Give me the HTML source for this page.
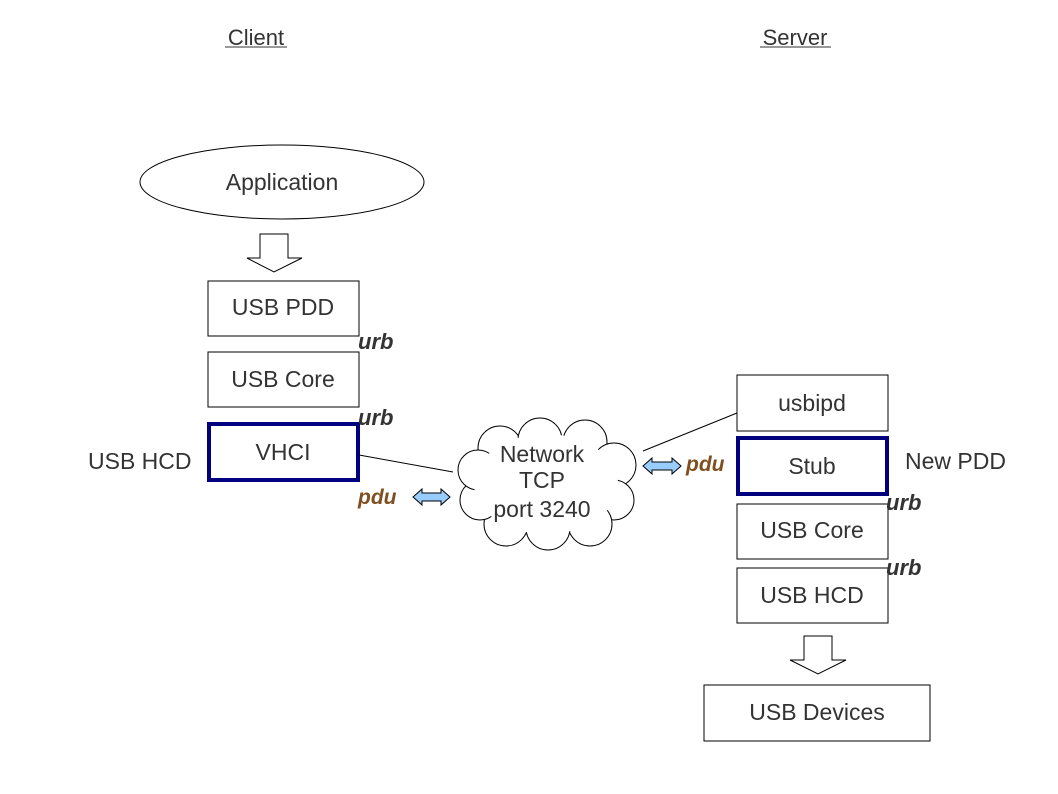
<!DOCTYPE html>
<html><head><meta charset="utf-8"><style>
html,body{margin:0;padding:0;background:#fff;}
svg{display:block;}
text{font-family:"Liberation Sans",sans-serif;fill:#333;}
</style></head><body>
<svg width="1058" height="794" viewBox="0 0 1058 794" xmlns="http://www.w3.org/2000/svg">
<rect width="1058" height="794" fill="#fff"/>
<text x="256" y="45" font-size="22" text-anchor="middle">Client</text>
<line x1="225" y1="47" x2="287" y2="47" stroke="#333" stroke-width="1"/>
<text x="795" y="45" font-size="22" text-anchor="middle">Server</text>
<line x1="760" y1="47" x2="831" y2="47" stroke="#333" stroke-width="1"/>

<ellipse cx="282" cy="182" rx="142" ry="37" fill="#fff" stroke="#000" stroke-width="1"/>
<text x="282" y="190" font-size="23" text-anchor="middle">Application</text>

<path d="M260,234 L288,234 L288,258 L302,258 L274,272 L247,258 L260,258 Z" fill="#fff" stroke="#000" stroke-width="1"/>

<rect x="208" y="281" width="151" height="55" fill="#fff" stroke="#000"/>
<text x="283" y="315" font-size="23" text-anchor="middle">USB PDD</text>
<rect x="208" y="352" width="151" height="55" fill="#fff" stroke="#000"/>
<text x="283" y="387" font-size="23" text-anchor="middle">USB Core</text>
<rect x="209" y="424" width="149" height="56" fill="#fff" stroke="#00007f" stroke-width="4"/>
<text x="283" y="460" font-size="23" text-anchor="middle">VHCI</text>
<text x="358" y="349" font-size="22" font-weight="bold" font-style="italic">urb</text>
<text x="358" y="425" font-size="22" font-weight="bold" font-style="italic">urb</text>
<text x="88" y="469" font-size="23">USB HCD</text>
<line x1="359" y1="455" x2="453" y2="472" stroke="#000"/>
<text x="358" y="504" font-size="21" font-weight="bold" font-style="italic" style="fill:#7f4f1f">pdu</text>
<path d="M413,497 L422,489 L422,493 L441,493 L441,489 L450,497 L441,505 L441,501 L422,501 L422,505 Z" fill="#99ccff" stroke="#000"/>

<!-- cloud -->
<g fill="#fff" stroke="#000" stroke-width="1">
<circle cx="500" cy="448" r="22"/>
<circle cx="540" cy="440" r="22"/>
<circle cx="585" cy="442" r="22"/>
<circle cx="614" cy="465" r="22"/>
<circle cx="614" cy="500" r="20"/>
<circle cx="590" cy="524" r="22"/>
<circle cx="548" cy="528" r="22"/>
<circle cx="506" cy="524" r="22"/>
<circle cx="480" cy="500" r="20"/>
<circle cx="478" cy="470" r="20"/>
</g>
<ellipse cx="546" cy="484" rx="72" ry="50" fill="#fff"/>
<text x="542" y="462" font-size="23" text-anchor="middle">Network</text>
<text x="542" y="488" font-size="23" text-anchor="middle">TCP</text>
<text x="542" y="517" font-size="23" text-anchor="middle">port 3240</text>

<!-- server -->
<line x1="643" y1="451" x2="737" y2="413" stroke="#000"/>
<path d="M643,466 L652,458 L652,462 L672,462 L672,458 L681,466 L672,474 L672,470 L652,470 L652,474 Z" fill="#99ccff" stroke="#000"/>
<text x="686" y="471" font-size="21" font-weight="bold" font-style="italic" style="fill:#7f4f1f">pdu</text>
<rect x="737" y="375" width="151" height="56" fill="#fff" stroke="#000"/>
<text x="812" y="411" font-size="23" text-anchor="middle">usbipd</text>
<rect x="738" y="438" width="149" height="56" fill="#fff" stroke="#00007f" stroke-width="4"/>
<text x="812" y="474" font-size="23" text-anchor="middle">Stub</text>
<text x="905" y="469" font-size="23">New PDD</text>
<rect x="737" y="504" width="151" height="55" fill="#fff" stroke="#000"/>
<text x="812" y="538" font-size="23" text-anchor="middle">USB Core</text>
<rect x="737" y="568" width="151" height="55" fill="#fff" stroke="#000"/>
<text x="812" y="603" font-size="23" text-anchor="middle">USB HCD</text>
<text x="886" y="510" font-size="22" font-weight="bold" font-style="italic">urb</text>
<text x="886" y="575" font-size="22" font-weight="bold" font-style="italic">urb</text>

<path d="M804,636 L832,636 L832,660 L846,660 L818,674 L790,660 L804,660 Z" fill="#fff" stroke="#000"/>
<rect x="704" y="685" width="226" height="56" fill="#fff" stroke="#000"/>
<text x="817" y="720" font-size="23" text-anchor="middle">USB Devices</text>
</svg>
</body></html>
